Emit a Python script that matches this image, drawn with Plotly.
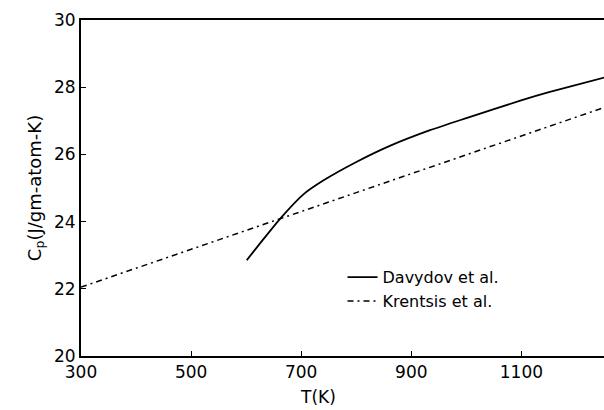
import plotly.graph_objects as go

# Davydov et al. (solid)
dav_T = [601, 630, 662, 704, 740, 801, 862, 934, 1000, 1098, 1150, 1251]
dav_C = [22.85, 23.45, 24.09, 24.81, 25.22, 25.78, 26.26, 26.72, 27.08, 27.60, 27.85, 28.29]

# Krentsis et al. (dash-dot)
kre_T = [300, 1251]
kre_C = [22.05, 27.40]

x_ticks = [300, 500, 700, 900, 1100]
y_ticks = [20, 22, 24, 26, 28, 30]

FONT = "DejaVu Sans, Liberation Sans, sans-serif"

fig = go.Figure()
fig.add_trace(go.Scatter(x=dav_T, y=dav_C, mode="lines", name="Davydov et al.",
                         line=dict(color="black", width=1.8, shape="spline", smoothing=0.6)))
fig.add_trace(go.Scatter(x=kre_T, y=kre_C, mode="lines", name="Krentsis et al.",
                         line=dict(color="black", width=1.5, dash="6px,4px,2px,4px")))

fig.update_layout(
    width=604, height=410,
    margin=dict(l=81, r=0, t=20, b=54),
    plot_bgcolor="white", paper_bgcolor="white",
    font=dict(family=FONT, size=16, color="black"),
    showlegend=True,
    legend=dict(x=0.50, y=0.285, xanchor="left", yanchor="top",
                bgcolor="rgba(0,0,0,0)", font=dict(size=16),
                itemwidth=30, tracegroupgap=0),
    xaxis=dict(range=[300, 1250], tickvals=x_ticks, ticks="inside", ticklen=5,
               tickcolor="black", showline=True, linecolor="black", linewidth=2,
               mirror=True, showgrid=False, zeroline=False,
               tickfont=dict(size=17)),
    yaxis=dict(range=[20, 30], tickvals=y_ticks, ticks="inside", ticklen=5,
               tickcolor="black", showline=True, linecolor="black", linewidth=2,
               showgrid=False, zeroline=False, tickfont=dict(size=17),
               title=dict(text="C<sub>p</sub>(J/gm-atom-K)", font=dict(size=18), standoff=8)),
    annotations=[dict(text="T(K)", x=731, y=0, xref="x", yref="paper",
                      yshift=-29, yanchor="top", showarrow=False,
                      font=dict(size=17))],
)

fig.write_html("out.html")
